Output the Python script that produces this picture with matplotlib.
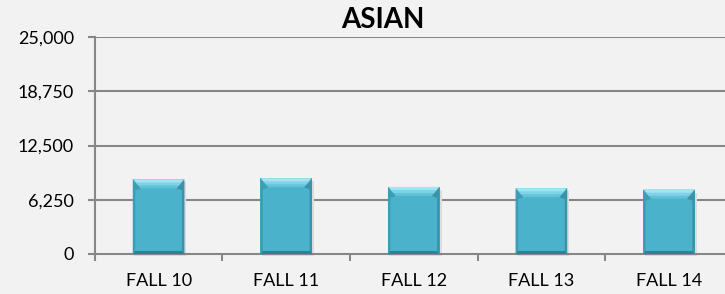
import matplotlib
matplotlib.use("Agg")
import matplotlib.pyplot as plt
from matplotlib.patches import Polygon

categories = ["FALL 10", "FALL 11", "FALL 12", "FALL 13", "FALL 14"]
values = [8600, 8720, 7720, 7570, 7410]
yticks = [0, 6250, 12500, 18750, 25000]
title = "ASIAN"

plt.rcParams['font.family'] = ['Lato', 'DejaVu Sans']

W, H = 725, 294
fig = plt.figure(figsize=(W / 100, H / 100), dpi=100)
fig.patch.set_facecolor('#F2F2F2')

ax_l, ax_r, ax_b, ax_t = 94.8, 732.8, 254.0, 37.0
ax = fig.add_axes([ax_l / W, 1 - ax_b / H, (ax_r - ax_l) / W, (ax_b - ax_t) / H])
ax.set_facecolor('#F2F2F2')

grid_c = '#878787'
x = list(range(len(categories)))
ax.set_xlim(-0.5, len(categories) - 0.5)
ax.set_ylim(0, 25000)

for t in yticks[1:]:
    ax.axhline(t, color=grid_c, lw=1.5, zorder=1)

bw = 0.405
bars = ax.bar(x, values, width=bw, color='#4BB2CB', zorder=3, linewidth=0)

# bevel decorations derived from each bar
px_x = (len(categories)) / (ax_r - ax_l)
px_y = 25000 / (ax_b - ax_t)
for b in bars:
    x0 = b.get_x(); x1 = x0 + b.get_width(); top = b.get_height()
    bx, by = 8 * px_x, 9 * px_y
    sx, sy = 2.5 * px_x, 3 * px_y
    # soft shadow
    ax.add_patch(Polygon([(x0 + 1.5 * px_x, -2 * px_y), (x1 + 2 * px_x, -2 * px_y),
                          (x1 + 2 * px_x, top - 3 * px_y), (x0 + 1.5 * px_x, top - 3 * px_y)],
                         closed=True, color='#DCDCDC', zorder=2, lw=0, clip_on=False))
    # left side
    ax.add_patch(Polygon([(x0, top), (x0 + bx, top - by), (x0 + sx, top - by - 2 * px_y),
                          (x0 + sx, sy), (x0, 0)], closed=True, color='#3E9DB5', zorder=4, lw=0))
    # right side
    ax.add_patch(Polygon([(x1, top), (x1 - bx, top - by), (x1 - sx, top - by - 2 * px_y),
                          (x1 - sx, sy), (x1, 0)], closed=True, color='#3A93AA', zorder=4, lw=0))
    # bottom
    ax.add_patch(Polygon([(x0, 0), (x1, 0), (x1 - sx, sy), (x0 + sx, sy)],
                         closed=True, color='#2E8196', zorder=4, lw=0))
    # top bevel, layered for a gradient look
    ax.add_patch(Polygon([(x0, top), (x1, top), (x1 - bx, top - by), (x0 + bx, top - by)],
                         closed=True, color='#62C2D8', zorder=5, lw=0))
    ax.add_patch(Polygon([(x0 + 0.5 * px_x, top), (x1 - 0.5 * px_x, top),
                          (x1 - 5.5 * px_x, top - 6 * px_y), (x0 + 5.5 * px_x, top - 6 * px_y)],
                         closed=True, color='#7ED3E6', zorder=6, lw=0))
    ax.add_patch(Polygon([(x0 + 1 * px_x, top), (x1 - 1 * px_x, top),
                          (x1 - 3.5 * px_x, top - 3 * px_y), (x0 + 3.5 * px_x, top - 3 * px_y)],
                         closed=True, color='#A2E6F3', zorder=7, lw=0))

ax.set_yticks(yticks)
ax.set_yticklabels([f"{v:,}" for v in yticks])
ax.set_xticks(x)
ax.set_xticklabels(categories)
ax.set_xticks([i - 0.5 for i in range(len(categories) + 1)], minor=True)

ax.tick_params(axis='y', length=5, width=1.5, color=grid_c, pad=10, labelsize=13, labelcolor='black')
ax.tick_params(axis='x', which='major', length=0, pad=14, labelsize=13, labelcolor='black')
ax.tick_params(axis='x', which='minor', length=5, width=1.5, color=grid_c)

for s in ['top', 'right']:
    ax.spines[s].set_visible(False)
for s in ['left', 'bottom']:
    ax.spines[s].set_color(grid_c)
    ax.spines[s].set_linewidth(1.5)
    ax.spines[s].set_zorder(2)

fig.text(383 / W, 1 - 20 / H, title, ha='center', va='center', fontsize=20,
         fontweight='bold', color='black')

fig.savefig("out.png", dpi=100, facecolor=fig.get_facecolor())
